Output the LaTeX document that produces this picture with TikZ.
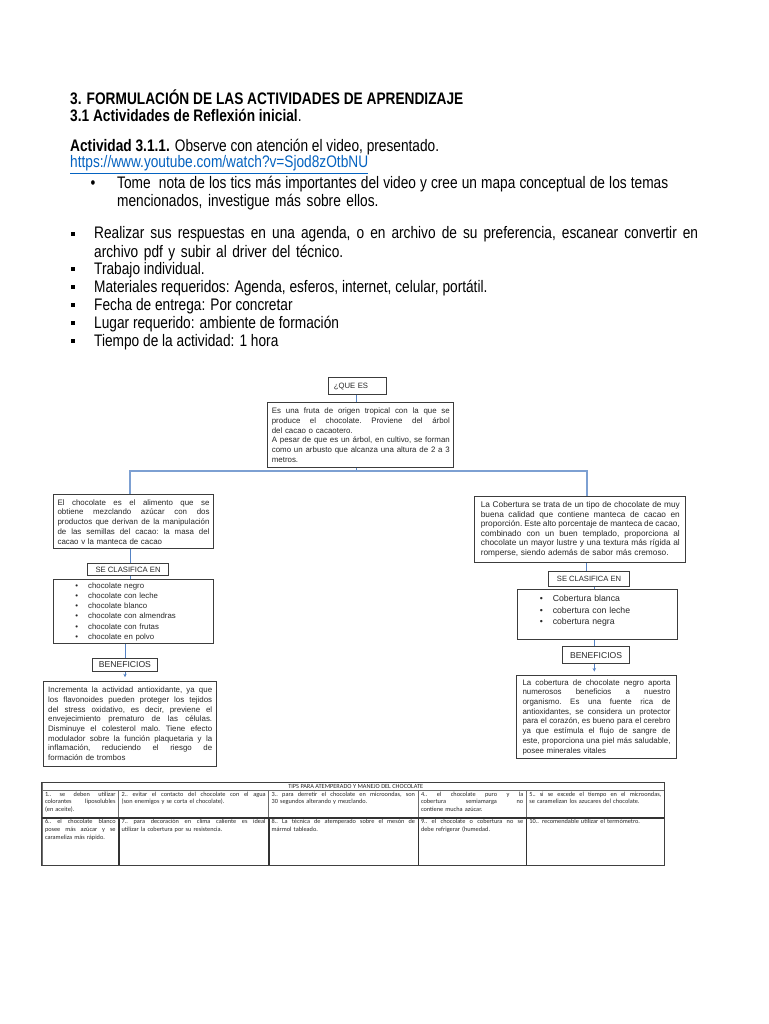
\documentclass[tikz,border=0pt]{standalone}
\usepackage{fontspec}
\setmainfont{Liberation Sans}
\newfontfamily\narrowfont[FakeStretch=0.82]{Liberation Sans}
\newfontfamily\tabfont{Carlito}
\usetikzlibrary{arrows.meta,calc}
\definecolor{conncol}{RGB}{84,130,196}
\definecolor{barcol}{RGB}{125,160,210}
\definecolor{boxcol}{RGB}{60,60,60}
\definecolor{linkcol}{RGB}{5,99,193}
\definecolor{txtcol}{RGB}{40,40,40}
\definecolor{tabline}{RGB}{110,110,110}
\newcommand\jline[1]{\hbox to\hsize{\frenchspacing\spaceskip=\fontdimen2\font plus 1fil minus 0.5\fontdimen2\font #1}\par}
\newcommand\lline[1]{\hbox to\hsize{#1\hfil}\par}
\newcommand\itm[2]{\hbox to\hsize{\hspace*{#1}\makebox[13pt][l]{\textbullet}#2\hfil}\par}
\tikzset{
  body/.style={anchor=base west, inner sep=0pt, font=\narrowfont\fontsize{16.7pt}{18pt}\selectfont},
  cbox/.style={draw=boxcol, line width=1.1pt, anchor=north west, inner ysep=2pt, text=txtcol,
    font=\fontsize{7.9pt}{9.7pt}\selectfont},
  lbl/.style={draw=boxcol, line width=1.1pt, anchor=north west, inner sep=0pt, text=txtcol, align=center},
  conn/.style={draw=conncol, line width=0.9pt},
  bar/.style={draw=barcol, line width=1.8pt},
  tcell/.style={draw=tabline, line width=0.6pt, anchor=north west, inner xsep=3pt, inner ysep=0pt,
    text height=5.4pt, text=txtcol, font=\tabfont\fontsize{6.3pt}{7.9pt}\selectfont},
  thickline/.style={draw=black!80, line width=1.2pt}
}
\begin{document}
\begin{tikzpicture}[x=1pt,y=-1pt]
\path[fill=white] (0,0) rectangle (768,1024);
\useasboundingbox (0,0) rectangle (768,1024);

% ---------- header text ----------
\node[body] (h1) at (70,105) {\bfseries 3. FORMULACIÓN DE LAS ACTIVIDADES DE APRENDIZAJE};
\node[body] (h2) at (70,122) {\textbf{3.1 Actividades de Reflexión inicial}.};
\node[body] (act) at (70,152) {\textbf{Actividad 3.1.1.} Observe con atención el video, presentado.};
\node[body, text=linkcol] (url) at (70,168) {\underline{https://www.youtube.com/watch?v=Sjod8zOtbNU}};
\node[body] (b0) at (90.5,189) {\textbullet};
\node[body, text width=551pt] (tome) at (117,189) {\jline{Tome\ \ nota de los tics más importantes del video y cree un mapa conceptual de los temas}\lline{mencionados, investigue más sobre ellos.}};

\node[body] (s1) at (71,239) {\raisebox{3.2pt}{\rule{3.4pt}{3.4pt}}};
\node[body, text width=604pt] (r1) at (94,239) {\jline{Realizar sus respuestas en una agenda, o en archivo de su preferencia, escanear convertir en}\lline{archivo pdf y subir al driver del técnico.}};
\node[body] (s2) at (71,274) {\raisebox{3.2pt}{\rule{3.4pt}{3.4pt}}};
\node[body] (r2) at (94,274) {Trabajo individual.};
\node[body] (s3) at (71,292) {\raisebox{3.2pt}{\rule{3.4pt}{3.4pt}}};
\node[body] (r3) at (94,292) {Materiales requeridos: Agenda, esferos, internet, celular, portátil.};
\node[body] (s4) at (71,310) {\raisebox{3.2pt}{\rule{3.4pt}{3.4pt}}};
\node[body] (r4) at (94,310) {Fecha de entrega: Por concretar};
\node[body] (s5) at (71,328) {\raisebox{3.2pt}{\rule{3.4pt}{3.4pt}}};
\node[body] (r5) at (94,328) {Lugar requerido: ambiente de formación};
\node[body] (s6) at (71,346) {\raisebox{3.2pt}{\rule{3.4pt}{3.4pt}}};
\node[body] (r6) at (94,346) {Tiempo de la actividad: 1 hora};

% ---------- concept map ----------
\node[lbl, minimum width=57.4pt, minimum height=17.6pt, text width=47.4pt, inner xsep=5pt, align=left,
  font=\fontsize{7.7pt}{9pt}\selectfont] (que) at (328.3,376.7) {¿QUE ES};

\node[cbox, text width=178pt, inner xsep=4pt, minimum height=64.4pt] (def) at (267.3,402.3) {%
\jline{Es una fruta de origen tropical con la que se}%
\jline{produce el chocolate. Proviene del árbol}%
\lline{del cacao o cacaotero.}%
\jline{A pesar de que es un árbol, en cultivo, se forman}%
\jline{como un arbusto que alcanza una altura de 2 a 3}%
\lline{metros.}};

% left column
\node[cbox, text width=152pt, inner xsep=4.3pt, minimum height=54pt] (lbox) at (52.7,494.3) {%
\jline{El chocolate es el alimento que se}%
\jline{obtiene mezclando azúcar con dos}%
\jline{productos que derivan de la manipulación}%
\jline{de las semillas del cacao: la masa del}%
\lline{cacao v la manteca de cacao}};

\node[lbl, minimum width=81.6pt, minimum height=11.7pt, font=\fontsize{7.7pt}{9pt}\selectfont] (lse) at (86.7,563.3) {SE CLASIFICA EN};

\node[cbox, text width=160pt, inner xsep=0pt, minimum height=64pt, font=\fontsize{7.8pt}{10.2pt}\selectfont] (llist) at (52.7,579.3) {%
\itm{22pt}{chocolate negro}%
\itm{22pt}{chocolate con leche}%
\itm{22pt}{chocolate blanco}%
\itm{22pt}{chocolate con almendras}%
\itm{22pt}{chocolate con frutas}%
\itm{22pt}{chocolate en polvo}};

\node[lbl, minimum width=65.3pt, minimum height=13.3pt, font=\fontsize{8.6pt}{10pt}\selectfont] (lben) at (91.7,657.7) {BENEFICIOS};

\node[cbox, text width=164pt, inner xsep=4.35pt, minimum height=85.3pt] (lbenef) at (43.3,680.7) {%
\jline{Incrementa la actividad antioxidante, ya que}%
\jline{los flavonoides pueden proteger los tejidos}%
\jline{del stress oxidativo, es decir, previene el}%
\jline{envejecimiento prematuro de las células.}%
\jline{Disminuye el colesterol malo. Tiene efecto}%
\jline{modulador sobre la función plaquetaria y la}%
\jline{inflamación, reduciendo el riesgo de}%
\lline{formación de trombos}};

% right column
\node[cbox, text width=199pt, inner xsep=6pt, minimum height=65.7pt, font=\fontsize{8.3pt}{9.6pt}\selectfont] (rbox) at (474.3,496) {%
\jline{La Cobertura se trata de un tipo de chocolate de muy}%
\jline{buena calidad que contiene manteca de cacao en}%
\jline{proporción. Este alto porcentaje de manteca de cacao,}%
\jline{combinado con un buen templado, proporciona al}%
\jline{chocolate un mayor lustre y una textura más rígida al}%
\lline{romperse, siendo además de sabor más cremoso.}};

\node[lbl, minimum width=81pt, minimum height=15pt, font=\fontsize{7.6pt}{9pt}\selectfont] (rse) at (548,570.7) {SE CLASIFICA EN};

\node[cbox, text width=160pt, inner xsep=0pt, inner ysep=0pt, text height=12pt, text depth=38pt,
  font=\fontsize{8.7pt}{11.7pt}\selectfont] (rlist) at (516.7,589) {%
\itm{22.5pt}{Cobertura blanca}%
\itm{22.5pt}{cobertura con leche}%
\itm{22.5pt}{cobertura negra}};

\node[lbl, minimum width=67pt, minimum height=17pt, font=\fontsize{8.6pt}{10pt}\selectfont] (rben) at (562,646) {BENEFICIOS};

\node[cbox, text width=148pt, inner xsep=6pt, minimum height=83pt] (rbenef) at (516,675) {%
\jline{La cobertura de chocolate negro aporta}%
\jline{numerosos beneficios a nuestro}%
\jline{organismo. Es una fuente rica de}%
\jline{antioxidantes, se considera un protector}%
\jline{para el corazón, es bueno para el cerebro}%
\jline{ya que estímula el flujo de sangre de}%
\jline{este, proporciona una piel más saludable,}%
\lline{posee minerales vitales}};

% connectors
\coordinate (xL1) at (130,0);
\coordinate (xL2) at (125,0);
\coordinate (xR1) at (586.7,0);
\coordinate (xR2) at (594.3,0);
\coordinate (hb) at (356.7,471);
\draw[conn] (que.south -| hb) -- (def.north -| hb);
\draw[conn] (def.south -| hb) -- (hb);
\draw[bar] (xL1 |- lbox.north) |- (hb) -| (xR1 |- rbox.north);
\draw[conn] (xL1 |- lbox.south) -- (xL1 |- lse.north);
\draw[conn] (xL1 |- lse.south) -- (xL1 |- llist.north);
\draw[conn] (xL2 |- llist.south) -- (xL2 |- lben.north);
\draw[conn, -{Stealth[length=3.5pt,width=3.5pt]}, shorten >=3.5pt] (xL2 |- lben.south) -- (xL2 |- lbenef.north);
\draw[conn] (xR1 |- rbox.south) -- (xR1 |- rse.north);
\draw[conn] (xR2 |- rse.south) -- (xR2 |- rlist.north);
\draw[conn] (xR2 |- rlist.south) -- (xR2 |- rben.north);
\draw[conn, -{Stealth[length=3.5pt,width=3.5pt]}, shorten >=3.5pt] (xR2 |- rben.south) -- (xR2 |- rbenef.north);

% ---------- table ----------
\node[draw=tabline, line width=0.6pt, anchor=north west, inner sep=0pt, minimum height=8.3pt,
  font=\tabfont\fontsize{6.3pt}{7.5pt}\selectfont, text=txtcol] (ttl) at (41.7,782)
  {\makebox[622.3pt][l]{\hspace*{246.3pt}TIPS PARA ATEMPERADO Y MANEJO DEL CHOCOLATE}};

\node[tcell, text width=70.6pt, text depth=22.3pt] (c11) at (41.7,790.3) {%
\jline{1.. se deben utilizar}\jline{colorantes liposolubles}\lline{(en aceite).}};
\node[tcell, text width=144pt, text depth=22.3pt] (c12) at (118.3,790.3) {%
\jline{2.. evitar el contacto del chocolate con el agua}\lline{(son enemigos y se corta el chocolate).}};
\node[tcell, text width=143.4pt, text depth=22.3pt] (c13) at (268.3,790.3) {%
\jline{3.. para derretir el chocolate en microondas, son}\lline{30 segundos alterando y mezclando.}};
\node[tcell, text width=102.3pt, text depth=22.3pt] (c14) at (417.7,790.3) {%
\jline{4.. el chocolate puro y la}\jline{cobertura semiamarga no}\lline{contiene mucha azúcar.}};
\node[tcell, text width=132pt, text depth=22.3pt] (c15) at (526,790.3) {%
\jline{5.. si se excede el tiempo en el microondas,}\lline{se caramelizan los azucares del chocolate.}};

\node[tcell, text width=70.6pt, text depth=41.9pt] (c21) at (41.7,818) {%
\jline{6.. el chocolate blanco}\jline{posee más azúcar y se}\lline{carameliza más rápido.}};
\node[tcell, text width=144pt, text depth=41.9pt] (c22) at (118.3,818) {%
\jline{7.. para decoración en clima caliente es ideal}\lline{utilizar la cobertura por su resistencia.}};
\node[tcell, text width=143.4pt, text depth=41.9pt] (c23) at (268.3,818) {%
\jline{8.. La técnica de atemperado sobre el mesón de}\lline{mármol tableado.}};
\node[tcell, text width=102.3pt, text depth=41.9pt] (c24) at (417.7,818) {%
\jline{9.. el chocolate o cobertura no se}\lline{debe refrigerar (humedad.}};
\node[tcell, text width=132pt, text depth=41.9pt] (c25) at (526,818) {%
\lline{10.. recomendable utilizar el termómetro.}};

\draw[thickline] (c21.north west) -- (c25.north east);
\draw[thickline] (c21.north east) -- (c21.south east);
\draw[thickline] (c22.north east) -- (c22.south east);
\draw[thickline] (c23.north east) -- (c23.south east);
\draw[thickline] (c24.north east) -- (c24.south east);
\draw[draw=black!75, line width=0.9pt] (ttl.north west) rectangle (c25.south east);
\end{tikzpicture}
\end{document}
